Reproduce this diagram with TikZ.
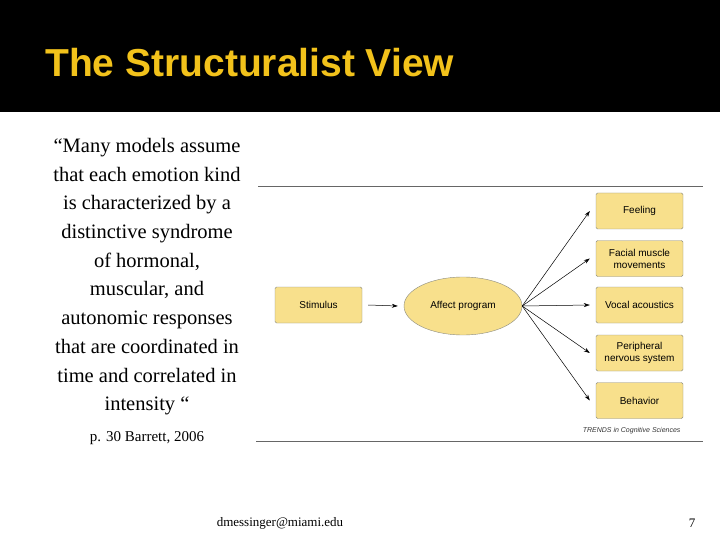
\documentclass[tikz,border=0pt]{standalone}
\usepackage{fontspec}
\setmainfont{Liberation Serif}
\setsansfont{Liberation Sans}
\usetikzlibrary{arrows.meta,shapes.geometric}
\definecolor{gold}{HTML}{F2C21B}
\definecolor{boxfill}{HTML}{F8E08C}
\definecolor{boxline}{HTML}{8A8A80}
\begin{document}
\begin{tikzpicture}[x=1pt,y=-1pt,
  box/.style={draw=boxline,fill=boxfill,rounded corners=1.5pt,minimum width=87pt,minimum height=36pt,font=\sffamily\fontsize{10}{12}\selectfont,align=center,inner sep=1pt},
  arr/.style={-{Stealth[length=6pt,width=4pt]},line width=0.5pt},
  body/.style={font=\fontsize{20.5}{28.7}\selectfont,align=center}]
\useasboundingbox (0,0) rectangle (720,540);
\fill[black] (0,0) rectangle (720,112);
\node[anchor=base west,inner sep=0pt,text=gold,font=\sffamily\bfseries\fontsize{39}{44}\selectfont] (title) at (45,77) {The Structuralist View};
\node[body,anchor=north,inner sep=0pt] (quote) at (147,138) {“Many models assume\\that each emotion kind\\is characterized by a\\distinctive syndrome\\of hormonal,\\muscular, and\\autonomic responses\\that are coordinated in\\time and correlated in\\intensity “};
\node[font=\fontsize{15}{18}\selectfont] (ref) at (147,438) {p. 30 Barrett, 2006};
\coordinate (t1) at (258,186); \coordinate (t2) at (703,186);
\coordinate (b1) at (256,441); \coordinate (b2) at (703,441);
\draw[gray!80!black,line width=0.8pt] (t1) -- (t2);
\draw[gray!80!black,line width=0.8pt] (b1) -- (b2);
\node[box] (stim) at (318.5,305) {Stimulus};
\node[draw=boxline,fill=boxfill,ellipse,minimum width=118pt,minimum height=58pt,inner sep=0pt,font=\sffamily\fontsize{10}{12}\selectfont] (aff) at (463,306) {Affect program};
\node[box] (feel) at (639.5,211) {Feeling};
\node[box] (face) at (639.5,258.5) {Facial muscle\\movements};
\node[box] (voc) at (639.5,305) {Vocal acoustics};
\node[box] (per) at (639.5,353) {Peripheral\\nervous system};
\node[box] (beh) at (639.5,400.5) {Behavior};
\draw[arr] ([xshift=6pt]stim.east) -- ([xshift=-6pt]aff.west);
\foreach \n in {feel,face,voc,per,beh}{\draw[arr] (aff.east) -- ([xshift=-6pt]\n.west);}
\node[anchor=east,font=\sffamily\itshape\fontsize{7}{8}\selectfont,text=black!80] (tr) at (684,431) {TRENDS in Cognitive Sciences};
\node[font=\fontsize{13}{15}\selectfont] (mail) at (280,523) {dmessinger@miami.edu};
\node[font=\fontsize{13}{15}\selectfont] (pg) at (692,523) {7};
\end{tikzpicture}
\end{document}
